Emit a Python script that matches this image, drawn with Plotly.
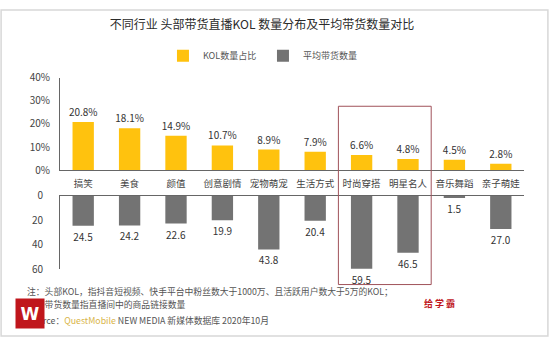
import plotly.graph_objects as go
from plotly.subplots import make_subplots

categories = ["搞笑", "美食", "颜值", "创意剧情", "宠物萌宠", "生活方式", "时尚穿搭", "明星名人", "音乐舞蹈", "亲子萌娃"]
kol_share = [20.8, 18.1, 14.9, 10.7, 8.9, 7.9, 6.6, 4.8, 4.5, 2.8]
avg_goods = [24.5, 24.2, 22.6, 19.9, 43.8, 20.4, 59.5, 46.5, 1.5, 27.0]
top_ticks = [0, 10, 20, 30, 40]
top_tick_labels = ["0%", "10%", "20%", "30%", "40%"]
bottom_ticks = [0, 20, 40, 60]

FONT = "Noto Sans CJK SC"
W, H = 549, 344

fig = make_subplots(rows=2, cols=1)

fig.add_trace(go.Bar(
    x=categories, y=kol_share, name="KOL数量占比",
    marker=dict(color="#FFC20E", line=dict(width=0)),
    width=0.46,
    texttemplate="%{y:.1f}%", textposition="outside", constraintext="none",
    textfont=dict(size=10, color="#333333", family=FONT),
    cliponaxis=False,
), row=1, col=1)

fig.add_trace(go.Bar(
    x=categories, y=avg_goods, name="平均带货数量",
    marker=dict(color="#737373", line=dict(width=0)),
    width=0.46,
    texttemplate="%{y:.1f}", textposition="outside", constraintext="none",
    textfont=dict(size=10, color="#333333", family=FONT),
    cliponaxis=False,
), row=2, col=1)

xd = [60 / W, 524 / W]
fig.update_layout(
    width=W, height=H,
    margin=dict(l=0, r=0, t=0, b=0),
    paper_bgcolor="white", plot_bgcolor="white",
    font=dict(family=FONT, color="#444444", size=10),
    title=dict(text="不同行业 头部带货直播KOL 数量分布及平均带货数量对比",
               x=262 / W, xanchor="center", y=1 - 25 / H, yanchor="middle",
               font=dict(size=12, color="#2b2b2b", family=FONT)),
    legend=dict(orientation="h", x=0.479, xanchor="center", y=1 - 49 / H, yanchor="middle",
                font=dict(size=9, color="#555555", family=FONT),
                itemwidth=30, entrywidth=55, bgcolor="rgba(0,0,0,0)"),
    bargap=0.5,
    showlegend=True,
)

fig.update_xaxes(domain=xd, range=[-0.5, 9.5], showgrid=False, zeroline=False)
fig.update_xaxes(row=1, col=1, showline=True, linecolor="#666666", linewidth=1,
                 ticks="outside", ticklen=4, tickcolor="rgba(0,0,0,0)",
                 tickfont=dict(size=9.5, color="#444444", family=FONT))
fig.update_xaxes(row=2, col=1, showline=True, linecolor="#666666", linewidth=1,
                 side="top", showticklabels=False, ticks="")

fig.update_yaxes(row=1, col=1, domain=[(H - 169) / H, (H - 72) / H], range=[0, 40],
                 tickvals=top_ticks, ticktext=top_tick_labels,
                 showline=True, linecolor="#666666", linewidth=1, showgrid=False, zeroline=False,
                 ticks="outside", ticklen=7, tickcolor="rgba(0,0,0,0)",
                 tickfont=dict(size=10, color="#444444", family=FONT))
fig.update_yaxes(row=2, col=1, domain=[(H - 273) / H, (H - 196) / H], range=[60, 0],
                 tickvals=bottom_ticks,
                 showline=True, linecolor="#666666", linewidth=1, showgrid=False, zeroline=False,
                 ticks="outside", ticklen=14, tickcolor="rgba(0,0,0,0)",
                 tickfont=dict(size=10, color="#444444", family=FONT))

# highlight box around 时尚穿搭 / 明星名人
fig.add_shape(type="rect", xref="x", yref="paper", x0=5.5, x1=7.5,
              y0=(H - 289) / H, y1=(H - 102) / H,
              line=dict(color="#A0525A", width=1), fillcolor="rgba(0,0,0,0)")

# outer frame
fig.add_shape(type="rect", xref="paper", yref="paper", x0=0.002, x1=0.998, y0=0.003, y1=0.997,
              line=dict(color="#D8D8D8", width=1.5))

notes = [
    ("注：头部KOL，指抖音短视频、快手平台中粉丝数大于1000万、且活跃用户数大于5万的KOL；", 296),
    ("平均带货数量指直播间中的商品链接数量", 310),
    ("Source：<span style='color:#D9B54A'>QuestMobile</span> NEW MEDIA 新媒体数据库 2020年10月", 327),
]
for txt, yy in notes:
    fig.add_annotation(text=txt, xref="paper", yref="paper", x=25 / W, y=1 - yy / H,
                       xanchor="left", yanchor="middle", showarrow=False,
                       font=dict(size=8.8, color="#555555", family=FONT))

# logo block (drawn on top of the footnote)
fig.add_annotation(text="<b>W</b>", xref="paper", yref="paper", x=15 / W, y=1 - 303 / H,
                   xanchor="left", yanchor="top",
                   showarrow=False, bgcolor="#C0161C", width=26, height=27, borderpad=1,
                   font=dict(size=17, color="white", family="DejaVu Sans"))
fig.add_annotation(text="<b>给 学 霸</b>", xref="paper", yref="paper", x=457 / W, y=1 - 318 / H,
                   showarrow=False, font=dict(size=9, color="#C0161C", family=FONT))

fig.write_html("out.html")
